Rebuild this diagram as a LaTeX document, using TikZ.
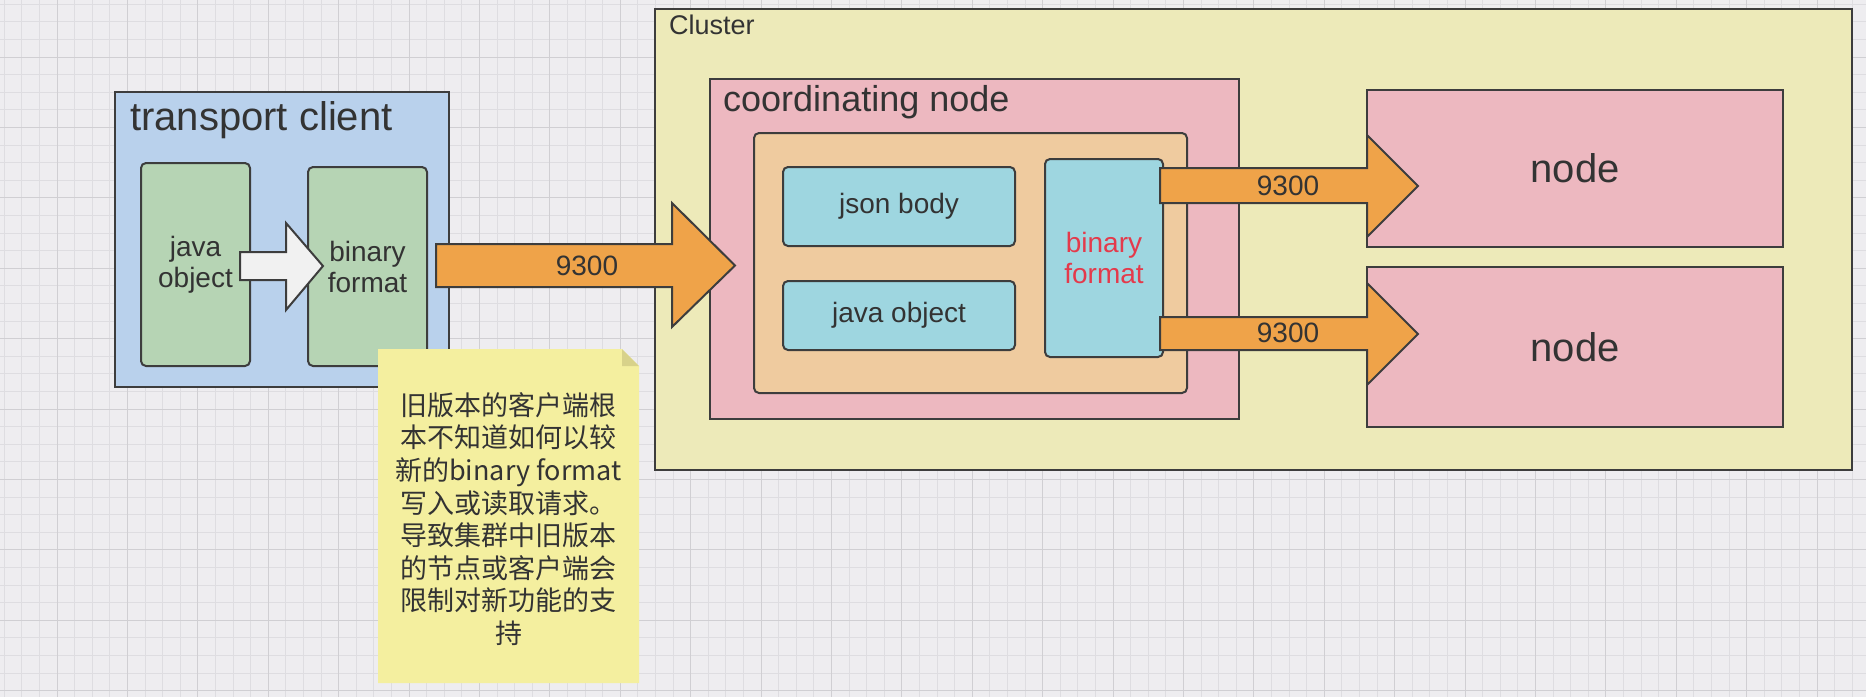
\documentclass[tikz,border=0pt]{standalone}
\usepackage{fontspec}
\setmainfont{Liberation Sans}
\newfontfamily\cjk{Noto Sans CJK SC}
\usetikzlibrary{calc}
\definecolor{bg}{HTML}{EEEDF0}
\definecolor{gridminor}{HTML}{DEDDE1}
\definecolor{gridmajor}{HTML}{D0CFD3}
\definecolor{tcblue}{HTML}{B9D1EC}
\definecolor{objgreen}{HTML}{B6D4B4}
\definecolor{clusterfill}{HTML}{EDEAB9}
\definecolor{pinkfill}{HTML}{EDB8C0}
\definecolor{peachfill}{HTML}{EFCB9F}
\definecolor{cyanfill}{HTML}{9ED6E0}
\definecolor{orangefill}{HTML}{EFA349}
\definecolor{whitearrow}{HTML}{F1F1F1}
\definecolor{notefill}{HTML}{F4EF9F}
\definecolor{notefold}{HTML}{D8D28A}
\definecolor{redtext}{HTML}{E43A4B}
\definecolor{edge}{HTML}{3D3D3D}
\definecolor{txt}{HTML}{333333}
\tikzset{
  sharpbox/.style={draw=edge, line width=2.4pt, inner sep=0pt, outer sep=0pt, anchor=north west},
  roundbox/.style={draw=edge, line width=2pt, rounded corners=5pt, inner sep=0pt, outer sep=0pt, anchor=north west},
  lab/.style={text=txt, font=\fontsize{28}{31}\selectfont, align=center},
  biglab/.style={text=txt, inner sep=0pt, anchor=base west},
  blockarrow/.style={draw=edge, line width=2pt, line join=miter},
  gminor/.style={draw=gridminor, line width=0.8pt},
  gmajor/.style={draw=gridmajor, line width=1pt},
}
\begin{document}
\begin{tikzpicture}[x=1pt,y=-1pt]
\useasboundingbox (0,0) rectangle (1866,697);
\fill[bg] (0,0) rectangle (1866,697);
% grid
\foreach \i in {0,...,105} {\pgfmathsetmacro\gx{4.2+17.6*\i}\draw[gminor] (\gx,0) -- (\gx,697);}
\foreach \i in {0,...,39} {\pgfmathsetmacro\gy{4.2+17.6*\i}\draw[gminor] (0,\gy) -- (1866,\gy);}
\foreach \i in {0,...,25} {\pgfmathsetmacro\gx{57+70.4*\i}\draw[gmajor] (\gx,0) -- (\gx,697);}
\foreach \i in {0,...,9} {\pgfmathsetmacro\gy{57+70.4*\i}\draw[gmajor] (0,\gy) -- (1866,\gy);}

% transport client
\node[sharpbox, fill=tcblue, minimum width=334pt, minimum height=295pt] (tc) at (115,92) {};
\node[biglab, font=\fontsize{40}{44}\selectfont] (tclab) at (130,130) {transport client};
\node[roundbox, fill=objgreen, minimum width=109pt, minimum height=203pt, lab] (jo) at (141,163) {java\\object};
\node[roundbox, fill=objgreen, minimum width=119pt, minimum height=199pt, lab] (bf) at (308,167) {binary\\format};
% white arrow
\draw[blockarrow, fill=whitearrow] (240,252) -- (286,252) -- (286,223) -- (323,266) -- (286,310) -- (286,280) -- (240,280) -- cycle;

% cluster
\node[sharpbox, fill=clusterfill, minimum width=1197pt, minimum height=461pt] (cl) at (655,9) {};
\node[biglab, font=\fontsize{27}{30}\selectfont] (cllab) at (669,34) {Cluster};
\node[sharpbox, fill=pinkfill, minimum width=529pt, minimum height=340pt] (cn) at (710,79) {};
\node[biglab, font=\fontsize{36}{40}\selectfont] (cnlab) at (723,111) {coordinating node};
\node[roundbox, fill=peachfill, minimum width=433pt, minimum height=260pt] (inner) at (754,133) {};
\node[roundbox, fill=cyanfill, minimum width=232pt, minimum height=79pt, lab] (jb) at (783,167) {json body};
\node[roundbox, fill=cyanfill, minimum width=232pt, minimum height=69pt, lab] (jo2) at (783,281) {java object};
\node[roundbox, fill=cyanfill, minimum width=118pt, minimum height=198pt, lab, text=redtext] (bf2) at (1045,159) {binary\\format};
\node[sharpbox, fill=pinkfill, minimum width=416pt, minimum height=157pt, lab, font=\fontsize{40}{44}\selectfont] (n1) at (1367,90) {node};
\node[sharpbox, fill=pinkfill, minimum width=416pt, minimum height=160pt, lab, font=\fontsize{40}{44}\selectfont] (n2) at (1367,267) {node};

% big arrow 9300
\draw[blockarrow, fill=orangefill] (436,244) -- (672,244) -- (672,203) -- (735,265.5) -- (672,327) -- (672,287) -- (436,287) -- cycle;
\node[lab] (l1) at (587,266) {9300};
% upper arrow
\draw[blockarrow, fill=orangefill] (1160,168) -- (1367,168) -- (1367,135) -- (1418,186) -- (1367,237) -- (1367,203) -- (1160,203) -- cycle;
\node[lab] (l2) at (1288,186) {9300};
% lower arrow
\draw[blockarrow, fill=orangefill] (1160,317) -- (1367,317) -- (1367,283) -- (1418,334) -- (1367,385) -- (1367,350) -- (1160,350) -- cycle;
\node[lab] (l3) at (1288,333) {9300};

% note
\fill[notefill] (378,349) -- (622,349) -- (639,366) -- (639,683) -- (378,683) -- cycle;
\fill[notefold] (622,349) -- (622,366) -- (639,366) -- cycle;
\node[text=txt, font=\cjk\fontsize{27}{32.6}\selectfont, align=center] (note) at (508.5,519) {旧版本的客户端根\\本不知道如何以较\\新的binary format\\写入或读取请求。\\导致集群中旧版本\\的节点或客户端会\\限制对新功能的支\\持};
\end{tikzpicture}
\end{document}
